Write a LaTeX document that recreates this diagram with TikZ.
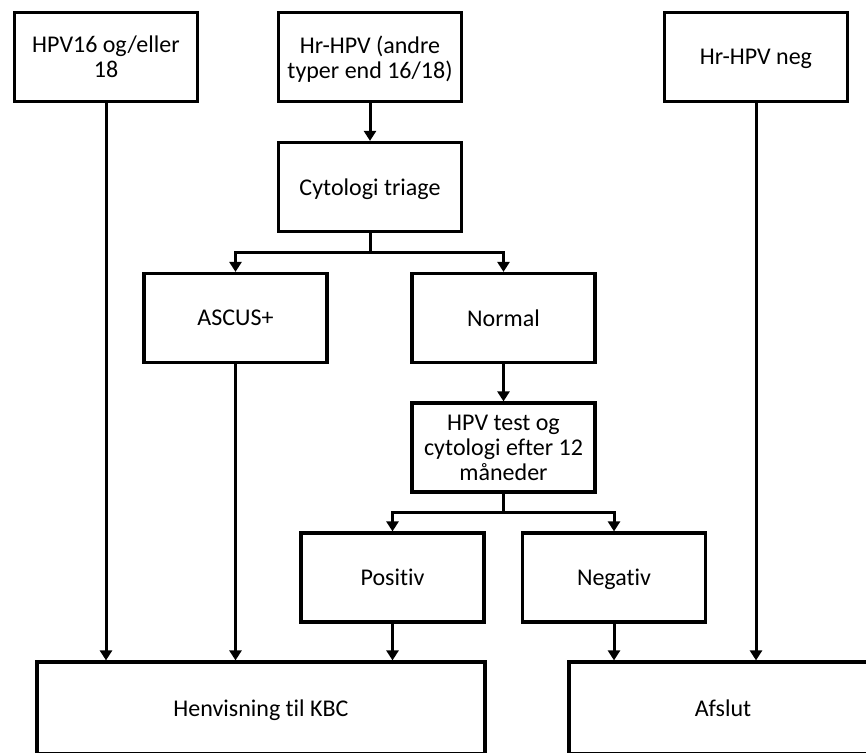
\documentclass[tikz,border=0pt]{standalone}
\usepackage{fontspec}
\setmainfont{Carlito}[Ligatures={NoCommon,NoContextual}]
\usetikzlibrary{arrows.meta}
\begin{document}
\begin{tikzpicture}[x=1pt,y=-1pt,
  box/.style={draw, line width=3.2pt, minimum width=183pt, minimum height=89pt,
    align=center, inner sep=0pt, text depth=0pt, font=\fontsize{24}{25}\selectfont, text=black},
  arr/.style={line width=3pt, -{Triangle[width=12pt,length=10pt]}},
  ln/.style={line width=3pt}]
\useasboundingbox (0,0) rectangle (866,752);
\clip (0,0) rectangle (866,752);
\node[box] (a) at (106,57) {HPV16 og/eller\\18};
\node[box] (b) at (370,57) {Hr-HPV (andre\\typer end 16/18)};
\node[box] (c) at (756,57) {Hr-HPV neg};
\node[box] (d) at (370,187) {Cytologi triage};
\node[box] (e) at (235.5,318) {ASCUS+};
\node[box] (f) at (503.5,318) {Normal};
\node[box] (g) at (503.5,447.5) {HPV test og\\cytologi efter 12\\måneder};
\node[box] (h) at (392.5,577.5) {Positiv};
\node[box] (i) at (614,577.5) {Negativ};
\node[box, minimum width=448pt, minimum height=91.5pt] (j) at (261,707.75) {Henvisning til KBC};
\node[box, minimum width=308pt, minimum height=91.5pt] (k) at (723,707.75) {Afslut};
\coordinate (d1) at (370,252);
\coordinate (g1) at (503.5,512);
\draw[arr] (a.south) -- (a.south |- j.north);
\draw[arr] (b) -- (d);
\draw[arr] (c.south) -- (c.south |- k.north);
\draw[ln] (d.south) -- (d1);
\draw[arr] (d1) -| (e.north);
\draw[arr] (d1) -| (f.north);
\draw[arr] (e.south) -- (e.south |- j.north);
\draw[arr] (f) -- (g);
\draw[ln] (g.south) -- (g1);
\draw[arr] (g1) -| (h.north);
\draw[arr] (g1) -| (i.north);
\draw[arr] (h.south) -- (h.south |- j.north);
\draw[arr] (i.south) -- (i.south |- k.north);
\end{tikzpicture}
\end{document}
